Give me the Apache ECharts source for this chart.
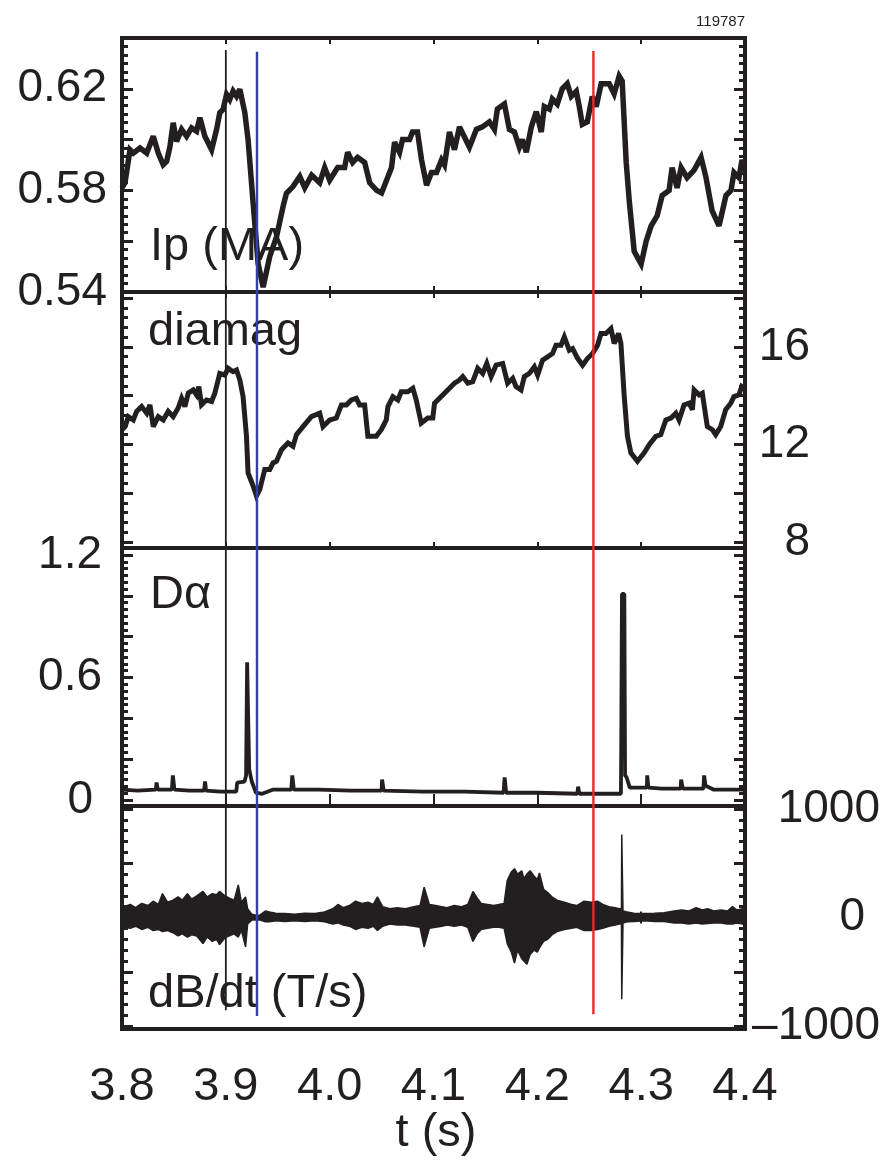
<!DOCTYPE html>
<html><head><meta charset="utf-8">
<script src="https://cdn.jsdelivr.net/npm/echarts@6/dist/echarts.min.js"></script>
<style>html,body{margin:0;padding:0;background:#fff}#c{width:890px;height:1162px}</style>
</head><body><div id="c"></div>
<script>
// ---------------- DATA ----------------
const shotNumber = '119787';
const xTickLabels = ['3.8','3.9','4.0','4.1','4.2','4.3','4.4'];
const panelNames = ['Ip (MA)', 'diamag', 'D\u03b1', 'dB/dt (T/s)'];

// Ip (MA) : [t (s), value]
const ipData = [[3.800,0.581],[3.8029,0.583],[3.8077,0.596],[3.8109,0.5947],[3.8173,0.5967],[3.8238,0.5947],[3.8301,0.6013],[3.8349,0.5947],[3.8397,0.5901],[3.8430,0.5914],[3.8462,0.5973],[3.8493,0.6066],[3.8526,0.5993],[3.8574,0.604],[3.8622,0.6013],[3.8670,0.6046],[3.8718,0.6033],[3.8750,0.6086],[3.8798,0.6013],[3.8863,0.596],[3.8911,0.604],[3.8942,0.6106],[3.8974,0.6119],[3.9007,0.6178],[3.9038,0.6158],[3.9070,0.6191],[3.9103,0.6171],[3.9135,0.6198],[3.9183,0.6106],[3.9214,0.600],[3.9263,0.5749],[3.9311,0.5512],[3.9359,0.5419],[3.9423,0.554],[3.9488,0.5617],[3.9551,0.5736],[3.9584,0.5789],[3.9647,0.5815],[3.9712,0.5855],
[3.9760,0.581],[3.9827,0.586],[3.9904,0.583],[3.9952,0.589],[4.0000,0.584],[4.0077,0.589],[4.0144,0.589],[4.0173,0.595],[4.0221,0.591],[4.0269,0.593],[4.0337,0.591],[4.0385,0.583],[4.0452,0.580],[4.0500,0.579],[4.0548,0.584],[4.0596,0.589],[4.0625,0.599],[4.0673,0.595],[4.0702,0.600],[4.0769,0.600],[4.0798,0.603],[4.0846,0.603],[4.0885,0.592],[4.0933,0.582],[4.0981,0.587],[4.1029,0.587],[4.1077,0.592],[4.1106,0.590],[4.1154,0.603],[4.1202,0.596],[4.1250,0.605],[4.1298,0.601],[4.1346,0.597],[4.1413,0.604],[4.1471,0.605],[4.1538,0.607],[4.1587,0.604],[4.1615,0.612],[4.1683,0.614],[4.1731,0.604],[4.1779,0.603],[4.1827,0.597],[4.1856,0.600],[4.1894,0.595],[4.1942,0.605],[4.1990,0.611],[4.2038,0.603],[4.2067,0.613],[4.2115,0.612],[4.2144,0.616],[4.2192,0.614],[4.2240,0.620],[4.2288,0.622],[4.2327,0.617],[4.2375,0.619],[4.2404,0.613],[4.2433,0.606],[4.2481,0.607],[4.2529,0.617],[4.2567,0.613],[4.2615,0.622],[4.2692,0.622],[4.2740,0.618],[4.2788,0.625],[4.2817,0.623],[4.2856,0.591],[4.2885,0.576],[4.2933,0.556],[4.3000,0.551],[4.3048,0.560],[4.3096,0.566],[4.3154,0.570],[4.3202,0.578],[4.3269,0.580],[4.3298,0.589],[4.3346,0.581],[4.3385,0.589],[4.3442,0.585],[4.3510,0.588],[4.3577,0.593],[4.3625,0.585],[4.3683,0.572],[4.3750,0.566],[4.3817,0.578],[4.3865,0.580],[4.3894,0.587],[4.3942,0.585],[4.3971,0.592],[4.3990,0.590]];

// diamag : [t (s), value]
const diamagData = [[3.800,12.6],[3.8029,12.73],[3.8061,13.14],[3.8109,13.0],[3.8141,13.35],[3.8189,13.55],[3.8238,13.28],[3.8269,13.62],[3.8301,12.73],[3.8349,13.14],[3.8397,13.0],[3.8445,13.35],[3.8493,13.14],[3.8541,13.49],[3.8574,13.89],[3.8606,13.55],[3.8638,14.1],[3.8686,14.23],[3.8718,14.03],[3.8740,14.37],[3.8766,13.62],[3.8814,13.82],[3.8863,13.76],[3.8894,14.1],[3.8942,14.91],[3.8990,14.84],[3.9022,15.12],[3.9070,14.98],[3.9103,15.05],[3.9135,14.64],[3.9166,13.96],[3.9199,12.33],[3.9214,10.83],[3.9263,10.29],[3.9295,9.88],[3.9327,10.15],[3.9375,10.97],[3.9423,10.97],[3.9455,11.24],[3.9488,11.31],[3.9536,11.78],[3.9599,12.06],[3.9647,11.92],[3.9680,12.4],[3.9743,12.73],[3.9824,13.14],[3.9904,13.28],[3.9936,12.73],[4.0000,13.0],[4.0064,13.08],[4.0113,13.62],[4.0161,13.62],[4.0209,13.82],[4.0257,13.89],[4.0288,13.62],[4.0337,13.62],[4.0368,12.33],[4.0449,12.33],[4.0497,12.6],[4.0545,13.0],[4.0561,13.55],[4.0609,13.96],[4.0657,13.82],[4.0689,14.16],[4.0753,14.16],[4.0801,14.3],[4.0834,13.82],[4.0882,12.87],[4.0945,13.08],[4.0993,13.08],[4.1010,13.69],[4.1058,13.89],[4.1106,14.1],[4.1154,14.3],[4.1202,14.51],[4.1250,14.64],[4.1282,14.78],[4.1330,14.51],[4.1378,14.57],[4.1426,15.12],[4.1474,14.91],[4.1513,15.32],[4.1555,14.78],[4.1603,15.25],[4.1666,15.32],[4.1714,14.51],[4.1763,14.71],[4.1795,14.37],[4.1843,14.23],[4.1875,14.78],[4.1923,14.91],[4.1971,15.18],[4.2003,14.84],[4.2051,15.46],[4.2099,15.59],[4.2147,15.73],[4.2180,16.07],[4.2228,16.07],[4.2260,16.41],[4.2308,15.86],[4.2340,15.93],[4.2388,15.53],[4.2436,15.25],[4.2484,15.53],[4.2532,15.73],[4.2580,16.07],[4.2613,16.55],[4.2660,16.55],[4.2709,16.75],[4.2740,16.14],[4.2782,16.55],[4.2805,16.14],[4.2837,13.96],[4.2868,12.33],[4.2901,11.65],[4.2964,11.31],[4.3029,11.65],[4.3077,11.99],[4.3141,12.33],[4.3189,12.4],[4.3238,13.0],[4.3286,13.08],[4.3334,13.28],[4.3365,13.0],[4.3413,13.62],[4.3462,13.69],[4.3493,13.42],[4.3510,14.23],[4.3558,14.03],[4.3589,14.1],[4.3637,12.73],[4.3686,12.6],[4.3718,12.4],[4.3766,12.73],[4.3814,13.42],[4.3863,13.69],[4.3894,13.96],[4.3942,14.03],[4.3968,14.37],[4.3990,14.3]];

// D-alpha : [t (s), value]
const dalphaData = [[3.800,0.05],[3.815,0.045],[3.8325,0.05],[3.8333,0.085],[3.8345,0.05],[3.848,0.05],[3.849,0.12],[3.8505,0.05],[3.865,0.045],[3.879,0.045],[3.880,0.09],[3.881,0.045],[3.895,0.04],[3.910,0.04],[3.911,0.085],[3.918,0.09],[3.9195,0.12],[3.9205,0.675],[3.9215,0.675],[3.9225,0.15],[3.925,0.09],[3.929,0.035],[3.935,0.03],[3.945,0.05],[3.963,0.05],[3.964,0.12],[3.9655,0.05],[3.990,0.05],[4.020,0.045],[4.050,0.045],[4.0505,0.10],[4.052,0.045],[4.090,0.04],[4.130,0.04],[4.1675,0.035],[4.1685,0.11],[4.170,0.035],[4.200,0.035],[4.2385,0.03],[4.2393,0.065],[4.2405,0.03],[4.2805,0.03],[4.2808,0.25],[4.2815,1.01],[4.2838,1.01],[4.2845,0.12],[4.286,0.11],[4.2875,0.11],[4.289,0.06],[4.300,0.06],[4.3055,0.06],[4.3058,0.12],[4.307,0.06],[4.320,0.055],[4.338,0.055],[4.3385,0.10],[4.340,0.055],[4.360,0.055],[4.3606,0.12],[4.362,0.07],[4.370,0.05],[4.400,0.05]];

// dB/dt envelope : time, upper and lower extent (T/s)
const dbTime  = [3.800,3.802,3.808,3.813,3.819,3.825,3.830,3.835,3.839,3.844,3.849,3.854,3.858,3.863,3.867,3.872,3.878,3.882,3.887,3.891,3.894,3.899,3.903,3.908,3.912,3.915,3.919,3.921,3.925,3.929,3.933,3.938,3.942,3.948,3.957,3.966,3.976,3.986,3.995,4.003,4.008,4.013,4.019,4.025,4.031,4.037,4.042,4.046,4.051,4.058,4.065,4.073,4.081,4.087,4.091,4.096,4.102,4.108,4.113,4.120,4.127,4.133,4.138,4.142,4.146,4.152,4.158,4.163,4.168,4.171,4.175,4.178,4.181,4.185,4.187,4.190,4.193,4.197,4.200,4.202,4.206,4.210,4.214,4.219,4.226,4.233,4.238,4.245,4.252,4.258,4.263,4.269,4.275,4.279,4.2810,4.2813,4.2822,4.2825,4.2865,4.293,4.303,4.313,4.322,4.332,4.339,4.346,4.353,4.359,4.364,4.370,4.377,4.383,4.388,4.392,4.398,4.400];
const dbUpper = [90,100,120,90,130,110,150,120,220,140,160,190,160,220,170,200,240,190,220,210,240,200,180,160,300,140,190,80,30,20,24,60,50,40,36,30,40,36,50,80,120,90,110,150,130,140,120,190,100,80,90,80,100,110,280,120,110,100,90,110,100,120,240,180,130,120,110,120,130,340,420,450,400,430,360,400,430,380,350,410,260,230,190,160,140,120,110,150,140,150,120,100,90,80,80,764,764,60,50,40,36,40,44,60,70,60,90,70,80,60,70,60,100,70,80,70];
const dbLower = [-80,-90,-100,-80,-110,-90,-120,-110,-130,-120,-140,-170,-150,-180,-160,-170,-240,-180,-220,-200,-250,-190,-170,-150,-180,-120,-270,-60,-24,-20,-24,-40,-40,-30,-36,-30,-36,-30,-40,-60,-50,-70,-80,-110,-90,-100,-80,-120,-80,-60,-70,-70,-80,-90,-270,-100,-90,-80,-70,-80,-70,-90,-220,-150,-110,-100,-90,-90,-100,-240,-320,-420,-300,-380,-400,-430,-340,-300,-320,-280,-220,-200,-160,-130,-110,-100,-90,-120,-120,-110,-100,-80,-70,-60,-60,-752,-752,-50,-40,-36,-30,-36,-36,-50,-50,-60,-50,-60,-56,-50,-50,-60,-60,-50,-60,-55];

// event markers: time, and vertical extent as fraction of the full stack height (0 = bottom, 1 = top)
const markerTimes  = [3.900, 3.930, 4.254];
const markerBottom = [0.019, 0.013, 0.015];
const markerTop    = [0.988, 0.986, 0.987];
const markerColors = ['#231f20', '#3341a0', '#ec2629'];

// axis ranges / ticks
const xRange = [3.8, 4.4];
const yRanges = [[0.54, 0.64], [7.75, 18.25], [-0.03, 1.235], [-1027, 1027]];
const yLabelValues = [[0.54, 0.58, 0.62], [8, 12, 16], [0, 0.6, 1.2], [-1000, 0, 1000]];

// ---------------- CHART ----------------
const INK = '#231f20';
const FONT = '"Liberation Sans", Arial, Helvetica, sans-serif';
function seq(a, b, step) {
  const out = []; const n = Math.round((b - a) / step);
  for (let i = 0; i <= n; i++) out.push(Math.round((a + i * step) * 1e6) / 1e6);
  return out;
}
const majorTicks = [seq(0.54, 0.64, 0.02), seq(8, 18, 2), seq(0, 1.2, 0.2), seq(-1000, 1000, 500)];
const minorTicks = [seq(0.54, 0.64, 0.02 / 6), seq(8, 18, 0.4), seq(0, 1.2, 0.2 / 6), seq(-1000, 1000, 100)];
const labelSide = ['left', 'right', 'left', 'right'];
const fmts = [
  v => v.toFixed(2),
  v => String(v),
  v => (v === 0 ? '{z|0}' : v.toFixed(1)),
  v => (v === 0 ? '{z|0}' : v < 0 ? '\u2013' + Math.abs(v) : String(v))
];
const labelMargin = [15, 65, 20, 135];
const zeroShift = [0, 0, 9, 15];

const gridBoxes = [{ top: 38, height: 254 }, { top: 292, height: 256 }, { top: 548, height: 258 }, { top: 806, height: 223 }];
const grids = gridBoxes.map(b => ({ left: 122, width: 623, top: b.top, height: b.height, show: true, borderColor: INK, borderWidth: 4, backgroundColor: 'transparent' }));
grids.push({ left: 122, width: 623, top: 38, height: 991, show: false });

const xAxes = [];
for (let g = 0; g < 4; g++) {
  ['bottom', 'top'].forEach(pos => {
    const showLab = (g === 3 && pos === 'bottom');
    xAxes.push({
      type: 'value', gridIndex: g, position: pos, min: xRange[0], max: xRange[1], interval: 0.1,
      axisLine: { show: false }, splitLine: { show: false },
      axisTick: { show: true, inside: true, length: 6, lineStyle: { color: INK, width: 2 } },
      axisLabel: showLab ? { show: true, margin: 35, fontSize: 47, color: INK, fontFamily: FONT, showMinLabel: true, showMaxLabel: true,
        formatter: v => { const i = Math.round((v - xRange[0]) / 0.1); return xTickLabels[i] || ''; } } : { show: false }
    });
  });
}
xAxes.push({ type: 'value', gridIndex: 4, min: xRange[0], max: xRange[1], show: false });

const yAxes = [];
for (let g = 0; g < 4; g++) {
  ['left', 'right'].forEach(pos => {
    const withLabels = labelSide[g] === pos;
    yAxes.push({
      type: 'value', gridIndex: g, position: pos, min: yRanges[g][0], max: yRanges[g][1],
      axisLine: { show: false }, splitLine: { show: false },
      axisTick: { show: true, inside: true, length: 11, customValues: majorTicks[g], lineStyle: { color: INK, width: 3 } },
      axisLabel: withLabels ? { show: true, customValues: yLabelValues[g], formatter: fmts[g], margin: labelMargin[g],
        align: 'right', fontSize: 46, color: INK, fontFamily: FONT,
        rich: { z: { fontSize: 46, color: INK, fontFamily: FONT, padding: [0, zeroShift[g], 0, 0] } } } : { show: false }
    });
    yAxes.push({
      type: 'value', gridIndex: g, position: pos, min: yRanges[g][0], max: yRanges[g][1],
      axisLine: { show: false }, splitLine: { show: false },
      axisTick: { show: true, inside: true, length: 6, customValues: minorTicks[g], lineStyle: { color: INK, width: 3 } },
      axisLabel: { show: false }
    });
  });
}
yAxes.push({ type: 'value', gridIndex: 4, min: 0, max: 1, show: false });

const base = { type: 'line', showSymbol: false, symbol: 'none', animation: false, silent: true };
const series = [
  Object.assign({}, base, { xAxisIndex: 0, yAxisIndex: 0, data: ipData, lineStyle: { color: INK, width: 5.5, join: 'miter', miterLimit: 3 }, z: 3 }),
  Object.assign({}, base, { xAxisIndex: 2, yAxisIndex: 4, data: diamagData, lineStyle: { color: INK, width: 5, join: 'miter', miterLimit: 3 }, z: 3 }),
  Object.assign({}, base, { xAxisIndex: 4, yAxisIndex: 8, data: dalphaData, lineStyle: { color: INK, width: 3.8 }, z: 3 }),
  Object.assign({}, base, { xAxisIndex: 6, yAxisIndex: 12, data: dbTime.map((t, i) => [t, dbUpper[i]]), lineStyle: { color: INK, width: 1.5 }, areaStyle: { color: INK, opacity: 1, origin: -15 }, z: 3 }),
  Object.assign({}, base, { xAxisIndex: 6, yAxisIndex: 12, data: dbTime.map((t, i) => [t, dbLower[i]]), lineStyle: { color: INK, width: 1.5 }, areaStyle: { color: INK, opacity: 1, origin: 15 }, z: 3 })
];
markerTimes.forEach((t, i) => {
  series.push(Object.assign({}, base, { xAxisIndex: 8, yAxisIndex: 16, clip: false,
    data: [[t, markerBottom[i]], [t, markerTop[i]]], lineStyle: { color: markerColors[i], width: i === 0 ? 1.8 : 2.4 }, z: 10 }));
});

const textStyle = { fontSize: 47, fontFamily: FONT, fill: INK, textVerticalAlign: 'middle' };
const labelPos = [[150, 247], [148, 332], [150, 595], [148, 994]];
const graphic = panelNames.map((n, i) => ({ type: 'text', x: labelPos[i][0], y: labelPos[i][1], z: 5,
  style: Object.assign({}, textStyle, { text: n }) }));
graphic.push({ type: 'text', x: 436, y: 1133, style: Object.assign({}, textStyle, { text: 't (s)', textAlign: 'center' }) });
graphic.push({ type: 'text', x: 745, y: 22, style: { text: shotNumber, fontSize: 15, fontFamily: FONT, fill: INK, textAlign: 'right', textVerticalAlign: 'middle' } });

const chart = echarts.init(document.getElementById('c'), null, { renderer: 'canvas' });
chart.setOption({ backgroundColor: '#fff', animation: false, grid: grids, xAxis: xAxes, yAxis: yAxes, series, graphic });
</script></body></html>
